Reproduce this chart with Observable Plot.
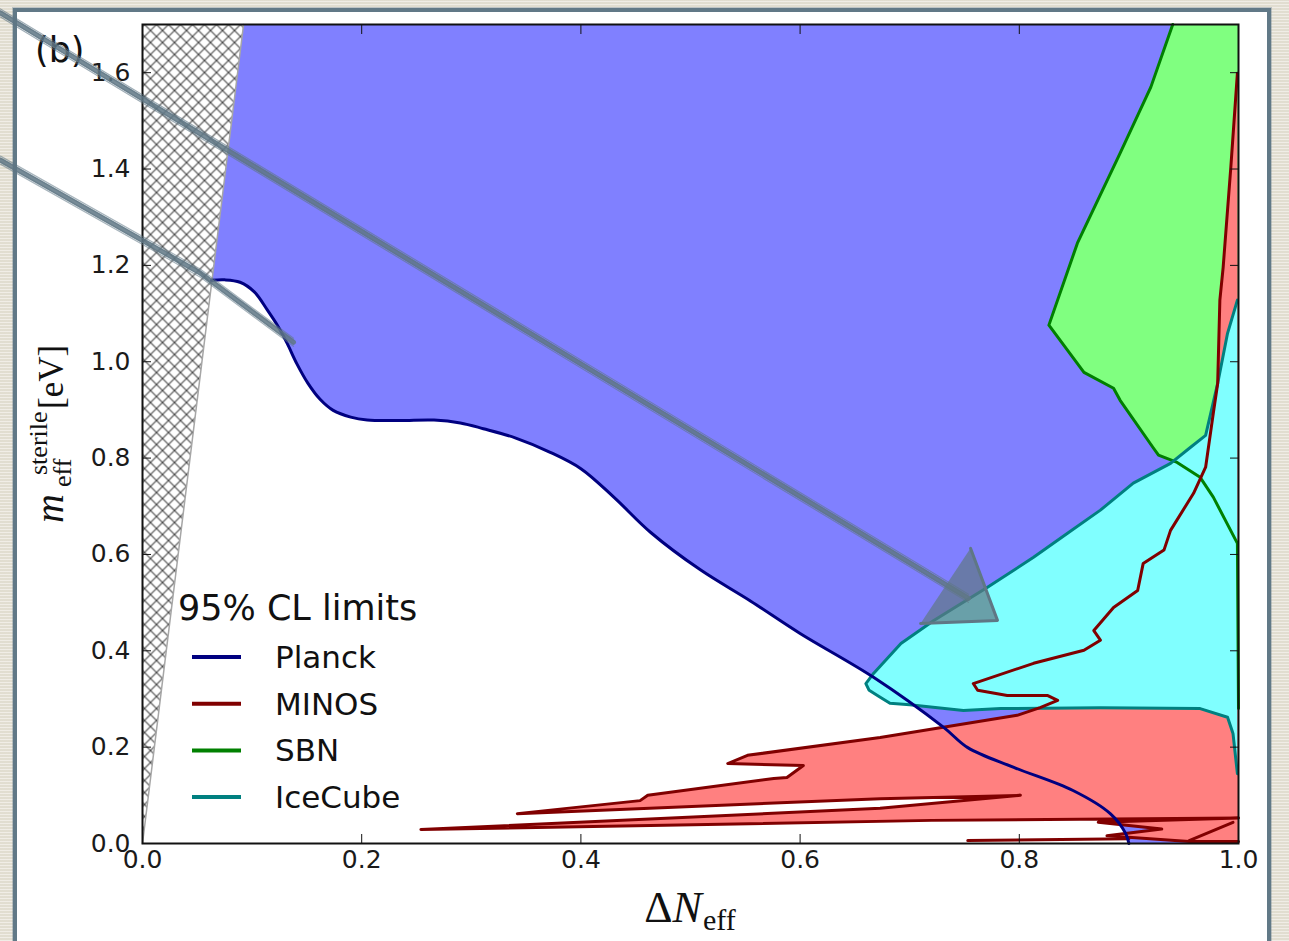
<!DOCTYPE html>
<html><head><meta charset="utf-8">
<script src="https://cdn.jsdelivr.net/npm/d3@7"></script>
<script src="https://cdn.jsdelivr.net/npm/@observablehq/plot@0.6"></script>
<style>
html,body{margin:0;padding:0;width:1289px;height:941px;overflow:hidden;}
body{background:#e8e4d8;background-image:repeating-linear-gradient(0deg,rgba(255,255,255,0.35) 0 1px,rgba(120,110,90,0.06) 1px 3px);}
#card{position:absolute;left:13px;top:8px;width:1258px;height:1000px;background:#fff;border:4px solid #617987;box-sizing:border-box;box-shadow:0 0 0 1px rgba(97,121,135,0.35);}
#chart{position:absolute;left:0;top:0;}
</style></head><body>
<div id="card"></div>
<div id="chart"></div>
<script>
// ---- axes / ticks ----
const xTicks = [0.0, 0.2, 0.4, 0.6, 0.8, 1.0];
const yTicks = [0.0, 0.2, 0.4, 0.6, 0.8, 1.0, 1.2, 1.4, 1.6];
const xDomain = [0, 1];
const yDomain = [0, 1.7];

// ---- excluded (hatched) wedge ----
const hatchX = [0, 0.0922, 0];
const hatchY = [0, 1.7, 1.7];

// ---- Planck 95% CL curve ----
const planckX = [0.063,0.075,0.089,0.102,0.114,0.124,0.132,0.141,0.151,0.162,0.174,0.190,0.205,0.235,0.266,0.290,0.311,0.340,0.372,0.400,0.430,0.464,0.509,0.555,0.600,0.667,0.731,0.753,0.795,0.849,0.883,0.897,0.900];
const planckY = [1.169,1.170,1.165,1.145,1.107,1.072,1.038,0.995,0.955,0.922,0.899,0.885,0.879,0.878,0.879,0.873,0.861,0.842,0.812,0.778,0.719,0.645,0.568,0.503,0.436,0.345,0.241,0.199,0.158,0.110,0.062,0.021,0.000];

// ---- SBN sensitivity ----
const sbnX = [0.940,0.920,0.892,0.853,0.827,0.859,0.886,0.892,0.922,0.927,0.944,0.965,0.977,0.999,1.000];
const sbnY = [1.700,1.570,1.433,1.246,1.076,0.978,0.945,0.920,0.822,0.806,0.791,0.760,0.719,0.623,0.280];

// ---- IceCube ----
const iceX = [0.999,0.990,0.981,0.970,0.956,0.938,0.904,0.874,0.844,0.813,0.771,0.722,0.692,0.667,0.660,0.663,0.672,0.682,0.700,0.749,0.783,0.874,0.965,0.990,0.994,0.995,0.999];
const iceY = [1.128,1.059,0.955,0.847,0.822,0.789,0.748,0.692,0.644,0.594,0.532,0.463,0.415,0.353,0.332,0.318,0.305,0.291,0.288,0.276,0.280,0.282,0.280,0.262,0.235,0.228,0.145];

// ---- MINOS ----
const minosX = [0.999,0.993,0.986,0.983,0.981,0.977,0.970,0.959,0.938,0.932,0.913,0.908,0.886,0.868,0.874,0.859,0.813,0.758,0.762,0.789,0.826,0.835,0.819,0.798,0.673,0.552,0.534,0.603,0.588,0.576,0.461,0.454,0.342,0.673,0.801,0.673,0.254,0.720,1.000,0.872,0.930,0.880,0.955,1.000];
const minosY = [1.599,1.404,1.196,1.128,0.955,0.893,0.781,0.727,0.650,0.609,0.581,0.525,0.490,0.442,0.422,0.401,0.374,0.332,0.318,0.307,0.307,0.297,0.282,0.266,0.220,0.183,0.166,0.162,0.137,0.135,0.100,0.089,0.062,0.093,0.100,0.073,0.029,0.048,0.053,0.044,0.030,0.016,0.004,0.004];
const minosBottomX = [0.753, 0.900];
const minosBottomY = [0.006, 0.010];
const minosZX = [0.995, 0.955];
const minosZY = [0.044, 0.006];

// ---- slide annotation strokes (hand-drawn arrows) ----
const arrow1X = [-0.1296, 0.7536];
const arrow1Y = [1.724, 0.509];
const arrowHeadX = [0.7555, 0.7801, 0.7099];
const arrowHeadY = [0.6127, 0.4631, 0.4569];
const arrow2X = [-0.1296, 0.0529, 0.1378];
const arrow2Y = [1.4185, 1.1838, 1.0405];

// ---- legend ----
const legendTitle = "95% CL limits";
const legendNames = ["Planck", "MINOS", "SBN", "IceCube"];
const legendColors = ["#000080", "#800000", "#008000", "#008080"];

const pts = (xs, ys) => xs.map((x, i) => ({x, y: ys[i]}));
const planck = pts(planckX, planckY);
const sbn = pts(sbnX, sbnY);
const ice = pts(iceX, iceY);
const minos = pts(minosX, minosY);
const minosBottom = pts(minosBottomX, minosBottomY);
const minosZ = pts(minosZX, minosZY);
const hatch = pts(hatchX, hatchY);
const hatchEdge = [hatch[0], hatch[1]];
const bluePoly = [hatch[1], ...planck, {x: xDomain[1], y: yDomain[0]}, {x: xDomain[1], y: yDomain[1]}];
const sbnPoly = [...sbn, {x: xDomain[1], y: yDomain[1]}];
const arrow1 = pts(arrow1X, arrow1Y);
const arrow2 = pts(arrow2X, arrow2Y);
const head = pts(arrowHeadX, arrowHeadY);

const ink = "#5f7785";
const fmt = d3.format(".1f");
const strands = [-4, -2, 2, 4];

const svg = Plot.plot({
  width: 1289, height: 941,
  marginLeft: 142, marginRight: 51, marginTop: 24, marginBottom: 98,
  style: "background: transparent; overflow: visible; font-family: 'DejaVu Sans', sans-serif; color: #111;",
  x: {domain: xDomain},
  y: {domain: yDomain},
  marks: [
    Plot.line(bluePoly, {x: "x", y: "y", fill: "#8080ff", stroke: "none"}),
    Plot.line(hatch, {x: "x", y: "y", fill: "url(#xhatch)", stroke: "none"}),
    Plot.line(hatchEdge, {x: "x", y: "y", stroke: "#a6a6a6", strokeWidth: 1.5}),
    Plot.line(sbnPoly, {x: "x", y: "y", fill: "#80ff80", stroke: "none"}),
    Plot.line(minos, {x: "x", y: "y", fill: "#ff8080", stroke: "none"}),
    Plot.line(ice, {x: "x", y: "y", fill: "#80ffff", stroke: "none"}),
    Plot.line(sbn, {x: "x", y: "y", stroke: legendColors[2], strokeWidth: 3, strokeLinejoin: "round"}),
    Plot.line(ice, {x: "x", y: "y", stroke: legendColors[3], strokeWidth: 3, strokeLinejoin: "round"}),
    Plot.line(minos, {x: "x", y: "y", stroke: legendColors[1], strokeWidth: 3, strokeLinejoin: "round"}),
    Plot.line(minosBottom, {x: "x", y: "y", stroke: legendColors[1], strokeWidth: 3}),
    Plot.line(minosZ, {x: "x", y: "y", stroke: legendColors[1], strokeWidth: 3}),
    Plot.line(planck, {x: "x", y: "y", stroke: legendColors[0], strokeWidth: 3, curve: "catmull-rom"}),
    Plot.frame({stroke: "#111", strokeWidth: 2}),
    Plot.axisX({anchor: "bottom", ticks: xTicks, tickSize: -9, tickPadding: 16, tickFormat: fmt, fontSize: 25, label: null, stroke: "#111", fill: "#1a1a1a"}),
    Plot.axisX({anchor: "top", ticks: xTicks, tickSize: -9, tickFormat: () => "", label: null, stroke: "#111"}),
    Plot.axisY({anchor: "left", ticks: yTicks, tickSize: -9, tickPadding: 21, tickFormat: fmt, fontSize: 25, label: null, stroke: "#111", fill: "#1a1a1a"}),
    Plot.axisY({anchor: "right", ticks: yTicks, tickSize: -9, tickFormat: () => "", label: null, stroke: "#111"}),
    // hand-drawn slide annotation strokes
    Plot.line(arrow1, {x: "x", y: "y", stroke: ink, strokeWidth: 5, strokeOpacity: 0.85}),
    ...strands.map(d => Plot.line(arrow1, {x: "x", y: "y", stroke: ink, strokeWidth: 1.2, dy: d, strokeOpacity: 0.6})),
    Plot.line(head, {x: "x", y: "y", fill: ink, stroke: ink, strokeWidth: 3, fillOpacity: 0.7, strokeLinejoin: "round"}),
    Plot.line(arrow2, {x: "x", y: "y", stroke: ink, strokeWidth: 5, strokeOpacity: 0.85}),
    ...strands.map(d => Plot.line(arrow2, {x: "x", y: "y", stroke: ink, strokeWidth: 1.2, dy: d, strokeOpacity: 0.55}))
  ]
});

const s = d3.select(svg);
const defs = s.insert("defs", ":first-child");
const pat = defs.append("pattern").attr("id", "xhatch").attr("patternUnits", "userSpaceOnUse").attr("width", 12).attr("height", 12);
pat.append("rect").attr("width", 12).attr("height", 12).attr("fill", "#fff");
pat.append("path").attr("d", "M0,0L12,12M12,0L0,12").attr("stroke", "#444").attr("stroke-width", 1.1);

// panel tag (drawn first so the arrows cross it)
s.insert("text", "defs + *")
  .attr("x", 35).attr("y", 62).attr("font-size", 35).attr("text-anchor", "start").attr("fill", "#111").text("(b)");

// x label
const xl = s.append("text").attr("x", 690).attr("y", 922).attr("text-anchor", "middle")
  .attr("font-family", "'Liberation Serif', serif").attr("font-size", 44).attr("fill", "#111");
xl.append("tspan").text("Δ");
xl.append("tspan").attr("font-style", "italic").text("N");
xl.append("tspan").attr("font-size", 30).attr("dy", 8).attr("dx", 1).text("eff");

// y label
const yl = s.append("g").attr("transform", "translate(63,523) rotate(-90)")
  .attr("font-family", "'Liberation Serif', serif").attr("fill", "#111").attr("text-anchor", "start");
yl.append("text").attr("x", 0).attr("y", 0).attr("font-size", 40).attr("font-style", "italic").text("m");
yl.append("text").attr("x", 36).attr("y", 8).attr("font-size", 26).text("eff");
yl.append("text").attr("x", 48).attr("y", -16).attr("font-size", 26).text("sterile");
yl.append("text").attr("x", 114).attr("y", 0).attr("font-size", 35).text("[eV]");

// legend
const lg = s.append("g").attr("font-family", "'DejaVu Sans', sans-serif").attr("fill", "#111").attr("text-anchor", "start");
lg.append("text").attr("x", 178).attr("y", 620).attr("font-size", 35).text(legendTitle);
legendNames.forEach((name, i) => {
  const cy = 657 + i * 46.7;
  lg.append("line").attr("x1", 192).attr("x2", 241).attr("y1", cy).attr("y2", cy)
    .attr("stroke", legendColors[i]).attr("stroke-width", 4);
  lg.append("text").attr("x", 275).attr("y", cy + 11).attr("font-size", 31).text(name);
});

document.getElementById("chart").appendChild(svg);
</script>
</body></html>
